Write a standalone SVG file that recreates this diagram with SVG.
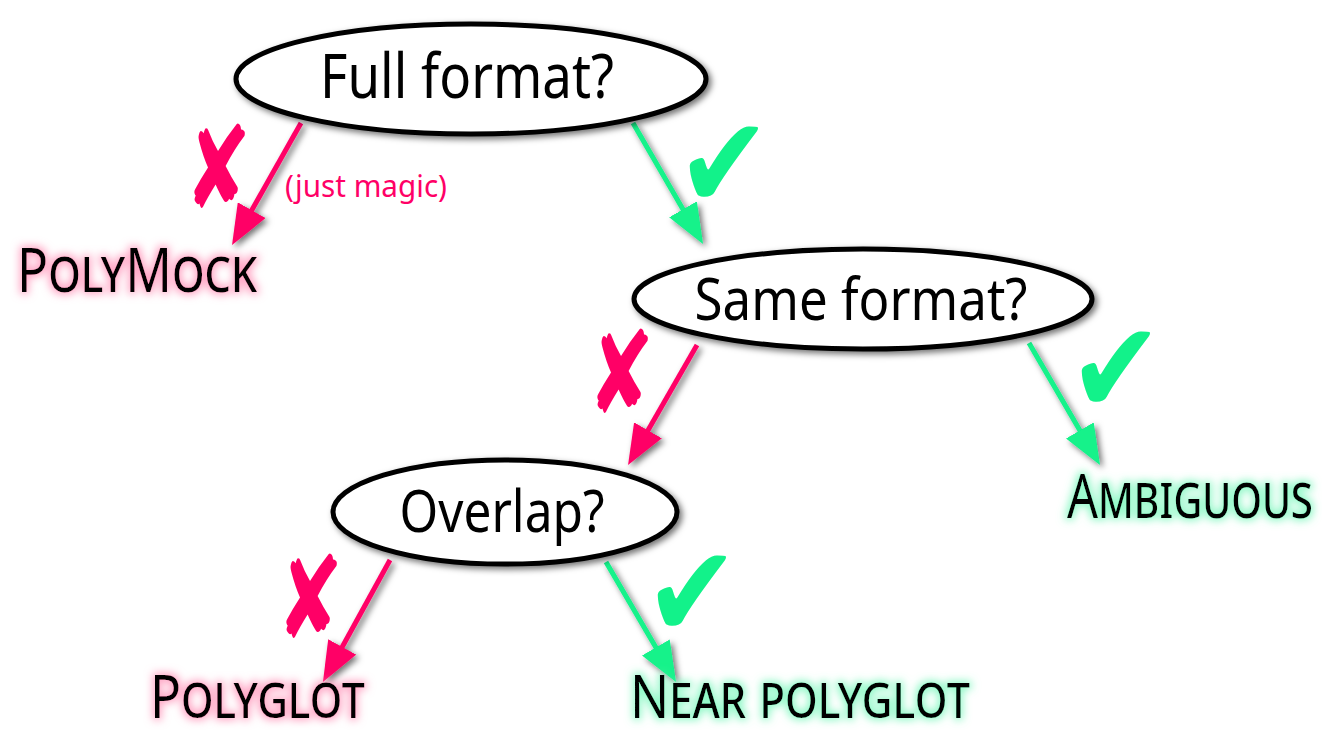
<svg xmlns="http://www.w3.org/2000/svg" width="1322" height="736" viewBox="0 0 1322 736">
  <style>
    .node { fill: #ffffff; stroke: #000000; stroke-width: 5; }
    .q { font-family: "Noto Sans", "DejaVu Sans", sans-serif; fill: #000; text-anchor: middle; }
    .lbl { font-family: "Noto Sans", "DejaVu Sans", sans-serif; fill: #000; font-variant: small-caps; font-size: 62px; }
    .no { stroke: #ff0066; stroke-width: 5; fill: none; }
    .yes { stroke: #12f28a; stroke-width: 5; fill: none; }
    .mark { font-family: "DejaVu Sans", sans-serif; text-anchor: middle; }
  </style>
  <defs>
    <filter id="shadow" x="-20%" y="-20%" width="140%" height="150%">
      <feDropShadow dx="3" dy="3" stdDeviation="3" flood-color="#000" flood-opacity="0.55"/>
    </filter>
    <filter id="glowPink" x="-20%" y="-60%" width="140%" height="220%">
      <feMorphology in="SourceAlpha" operator="dilate" radius="2" result="d"/>
      <feGaussianBlur in="d" stdDeviation="4" result="b"/>
      <feFlood flood-color="#ff7aa8" flood-opacity="0.7"/>
      <feComposite in2="b" operator="in" result="g"/>
      <feMerge><feMergeNode in="g"/><feMergeNode in="SourceGraphic"/></feMerge>
    </filter>
    <filter id="glowGreen" x="-20%" y="-60%" width="140%" height="220%">
      <feMorphology in="SourceAlpha" operator="dilate" radius="2" result="d"/>
      <feGaussianBlur in="d" stdDeviation="4" result="b"/>
      <feFlood flood-color="#5cf5ad" flood-opacity="0.7"/>
      <feComposite in2="b" operator="in" result="g"/>
      <feMerge><feMergeNode in="g"/><feMergeNode in="SourceGraphic"/></feMerge>
    </filter>
    <marker id="headNo" viewBox="0 -16 40 32" refX="10" refY="0" markerWidth="40" markerHeight="32" markerUnits="userSpaceOnUse" orient="auto">
      <path d="M0,-16 L40,0 L0,16 z" fill="#ff0066"/>
    </marker>
    <marker id="headYes" viewBox="0 -16 40 32" refX="10" refY="0" markerWidth="40" markerHeight="32" markerUnits="userSpaceOnUse" orient="auto">
      <path d="M0,-16 L40,0 L0,16 z" fill="#12f28a"/>
    </marker>
  </defs>

  <g id="connectors" filter="url(#shadow)">
    <path class="no" d="M301,123 L246.8,218.9" marker-end="url(#headNo)"/>
    <path class="yes" d="M633,123 L688,218" marker-end="url(#headYes)"/>
    <path class="no" d="M697,345 L643,439" marker-end="url(#headNo)"/>
    <path class="yes" d="M1029,343 L1084.9,439.1" marker-end="url(#headYes)"/>
    <path class="no" d="M390,560 L337.4,655.7" marker-end="url(#headNo)"/>
    <path class="yes" d="M606,562 L660.9,656.1" marker-end="url(#headYes)"/>
  </g>

  <g id="marks">
    <text class="mark" transform="translate(218,168) scale(1,1.43)" x="0" y="28" font-size="80" fill="#ff0066">✘</text>
    <text class="mark" transform="translate(621,373) scale(1,1.43)" x="0" y="28" font-size="80" fill="#ff0066">✘</text>
    <text class="mark" transform="translate(310,598) scale(1,1.43)" x="0" y="28" font-size="80" fill="#ff0066">✘</text>
    <text class="mark" transform="translate(724,162) scale(1.28,1.47)" x="0" y="31" font-size="88" fill="#12f28a">✔</text>
    <text class="mark" transform="translate(1116,367) scale(1.28,1.47)" x="0" y="31" font-size="88" fill="#12f28a">✔</text>
    <text class="mark" transform="translate(692,591) scale(1.28,1.47)" x="0" y="31" font-size="88" fill="#12f28a">✔</text>
    <text x="285" y="197" font-family="Noto Sans, DejaVu Sans, sans-serif" font-size="30" fill="#ff0066" textLength="162" lengthAdjust="spacingAndGlyphs">(just magic)</text>
  </g>

  <g id="full-format" filter="url(#shadow)">
    <ellipse class="node" cx="471" cy="79" rx="235" ry="55"/>
    <text class="q" x="467" y="98" font-size="62" textLength="294" lengthAdjust="spacingAndGlyphs">Full format?</text>
  </g>
  <g id="same-format" filter="url(#shadow)">
    <ellipse class="node" cx="863" cy="299" rx="229" ry="50"/>
    <text class="q" x="861" y="320" font-size="58" textLength="333" lengthAdjust="spacingAndGlyphs">Same format?</text>
  </g>
  <g id="overlap" filter="url(#shadow)">
    <ellipse class="node" cx="505" cy="512" rx="172" ry="52"/>
    <text class="q" x="502" y="532" font-size="58" textLength="205" lengthAdjust="spacingAndGlyphs">Overlap?</text>
  </g>

  <g id="polymock" filter="url(#glowPink)">
    <text class="lbl" x="17" y="292" textLength="240" lengthAdjust="spacingAndGlyphs">PolyMock</text>
  </g>
  <g id="ambiguous" filter="url(#glowGreen)">
    <text class="lbl" transform="translate(1067,518) scale(0.788,1)" x="0" y="0" textLength="312" lengthAdjust="spacingAndGlyphs">Ambiguous</text>
  </g>
  <g id="polyglot" filter="url(#glowPink)">
    <text class="lbl" transform="translate(150,718) scale(0.846,1)" x="0" y="0" font-size="61" style="font-size:61px" textLength="254" lengthAdjust="spacingAndGlyphs">Polyglot</text>
  </g>
  <g id="near-polyglot" filter="url(#glowGreen)">
    <text class="lbl" transform="translate(630,718) scale(0.85,1)" x="0" y="0" style="font-size:61px" textLength="400" lengthAdjust="spacingAndGlyphs">Near polyglot</text>
  </g>
</svg>
